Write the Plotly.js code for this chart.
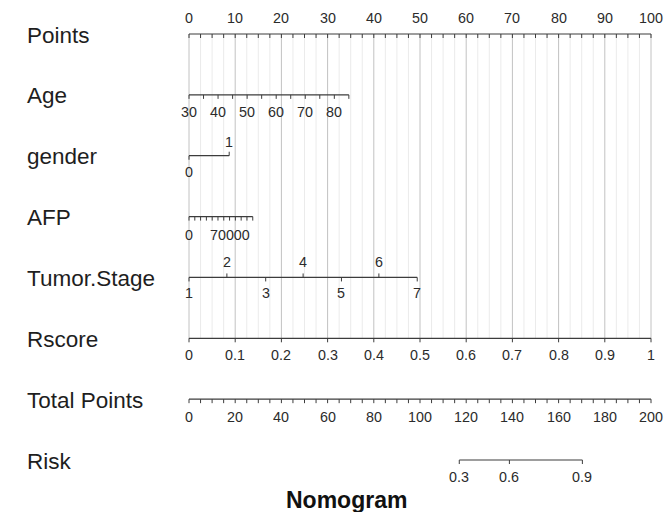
<!DOCTYPE html>
<html><head><meta charset="utf-8">
<script src="https://cdn.plot.ly/plotly-3.0.1.min.js"></script>
<style>html,body{margin:0;padding:0;background:#fff}#chart{width:664px;height:512px}</style>
</head><body><div id="chart"></div>
<script>
// ---- data ----
const rowNames = ["Points","Age","gender","AFP","Tumor.Stage","Rscore","Total Points","Risk"];
const pointsTickLabels = [0,10,20,30,40,50,60,70,80,90,100];
const pointsMinorStep = 2.5;
const ageRange = [30,85];
const agePointsRange = [0,34.6];
const ageTickLabels = [30,40,50,60,70,80];
const ageMinorStep = 5;
const genderLevels = [0,1];
const genderPoints = [0,8.7];
const afpRange = [0,110000];
const afpPointsRange = [0,13.8];
const afpTickStep = 10000;
const afpTickLabels = [0,70000];
const stageLevels = [1,2,3,4,5,6,7];
const stagePoints = [0,8.2,16.6,24.7,33.0,41.1,49.4];
const rscoreRange = [0,1];
const rscorePointsRange = [0,100];
const rscoreTickLabels = [0,0.1,0.2,0.3,0.4,0.5,0.6,0.7,0.8,0.9,1];
const totalRange = [0,200];
const totalTickLabels = [0,20,40,60,80,100,120,140,160,180,200];
const totalMinorStep = 5;
const riskLevels = [0.3,0.6,0.9];
const riskTotalPoints = [117,138.7,170.3];

// ---- geometry ----
const W = 664, H = 512;
const X0 = 189, PXP = 4.62;       // pixel of 0 points, pixels per point
const ROW0 = 34, ROW_PX = 60.86;  // pixel of first row, pixels per row
const px2row = p => p / ROW_PX;
const FONT = "Liberation Sans, Arial, sans-serif";
const AXIS_COL = "#3c3c3c", TXT_COL = "#2b2b2b";

const lin = (v, r, p) => p[0] + (v - r[0]) * (p[1] - p[0]) / (r[1] - r[0]);
const seq = (a, b, s) => { const o = []; for (let v = a; v <= b + 1e-9; v += s) o.push(+v.toFixed(6)); return o; };
const tpToPts = tp => lin(tp, totalRange, [0,100]);

const traces = [];
const annotations = [];
function segs(list, color, width) {
  const x = [], y = [];
  list.forEach(s => { x.push(s[0], s[2], null); y.push(s[1], s[3], null); });
  traces.push({x, y, mode: "lines", line: {color, width}, hoverinfo: "skip", type: "scatter"});
}
function label(x, row, text, shiftPx, size) {
  annotations.push({x, y: row, xref: "x", yref: "y", text: String(text), showarrow: false,
    yshift: shiftPx, xanchor: "center", yanchor: "middle",
    font: {family: FONT, size: size || 14.3, color: TXT_COL}});
}
const TICK = px2row(4);

// grid lines (from Points row to Rscore row)
const minor = seq(0, 100, pointsMinorStep).filter(v => Math.abs(v % 10) > 1e-6);
segs(minor.map(v => [v, 0, v, 5]), "#ebebeb", 1);
segs(pointsTickLabels.map(v => [v, 0, v, 5]), "#c2c2c2", 1);

// Points row 0
const axSegs = [], tickSegs = [];
axSegs.push([0, 0, 100, 0]);
seq(0, 100, pointsMinorStep).forEach(v => tickSegs.push([v, 0, v, TICK]));
pointsTickLabels.forEach(v => label(v, 0, v, 16));

// Age row 1
axSegs.push([agePointsRange[0], 1, agePointsRange[1], 1]);
seq(ageRange[0], ageRange[1], ageMinorStep).forEach(a => { const p = lin(a, ageRange, agePointsRange); tickSegs.push([p, 1, p, 1 + TICK]); });
ageTickLabels.forEach(a => label(lin(a, ageRange, agePointsRange), 1, a, -17));

// gender row 2
axSegs.push([genderPoints[0], 2, genderPoints[1], 2]);
tickSegs.push([genderPoints[0], 2, genderPoints[0], 2 + TICK]);
tickSegs.push([genderPoints[1], 2, genderPoints[1], 2 - TICK]);
label(genderPoints[0], 2, genderLevels[0], -16);
label(genderPoints[1], 2, genderLevels[1], 14);

// AFP row 3
axSegs.push([afpPointsRange[0], 3, afpPointsRange[1], 3]);
seq(afpRange[0], afpRange[1], afpTickStep).forEach(a => { const p = lin(a, afpRange, afpPointsRange); tickSegs.push([p, 3, p, 3 + TICK]); });
afpTickLabels.forEach(a => label(lin(a, afpRange, afpPointsRange), 3, a, -18));

// Tumor.Stage row 4
axSegs.push([stagePoints[0], 4, stagePoints[stagePoints.length - 1], 4]);
stageLevels.forEach((s, i) => {
  const up = i % 2 === 1;
  tickSegs.push([stagePoints[i], 4, stagePoints[i], 4 + (up ? -TICK : TICK)]);
  label(stagePoints[i], 4, s, up ? 15 : -16);
});

// Rscore row 5
axSegs.push([rscorePointsRange[0], 5, rscorePointsRange[1], 5]);
rscoreTickLabels.forEach(r => { const p = lin(r, rscoreRange, rscorePointsRange); tickSegs.push([p, 5, p, 5 + TICK]); label(p, 5, r, -17); });

// Total Points row 6
axSegs.push([tpToPts(totalRange[0]), 6, tpToPts(totalRange[1]), 6]);
seq(totalRange[0], totalRange[1], totalMinorStep).forEach(t => tickSegs.push([tpToPts(t), 6, tpToPts(t), 6 + TICK]));
totalTickLabels.forEach(t => label(tpToPts(t), 6, t, -18));

// Risk row 7
axSegs.push([tpToPts(riskTotalPoints[0]), 7, tpToPts(riskTotalPoints[riskTotalPoints.length - 1]), 7]);
riskLevels.forEach((r, i) => { const p = tpToPts(riskTotalPoints[i]); tickSegs.push([p, 7, p, 7 + TICK]); label(p, 7, r, -17); });

segs(axSegs, AXIS_COL, 1.2);
segs(tickSegs, AXIS_COL, 1);

// row names
rowNames.forEach((n, i) => annotations.push({x: 25 / W, xref: "paper", y: i, yref: "y", text: n,
  showarrow: false, xanchor: "left", yanchor: "middle", yshift: -1,
  font: {family: FONT, size: 22.5, color: "#1e1e1e"}}));

// title
annotations.push({x: 347 / W, xref: "paper", y: 7, yref: "y", yshift: -40, text: "<b>Nomogram</b>",
  showarrow: false, xanchor: "center", yanchor: "middle", font: {family: FONT, size: 23, color: "#111"}});

const layout = {
  width: W, height: H, margin: {l: 0, r: 0, t: 0, b: 0},
  paper_bgcolor: "#fff", plot_bgcolor: "#fff", showlegend: false, hovermode: false,
  xaxis: {range: [-X0 / PXP, (W - X0) / PXP], visible: false, fixedrange: true},
  yaxis: {range: [px2row(H - ROW0), px2row(-ROW0)], visible: false, fixedrange: true},
  annotations
};
Plotly.newPlot("chart", traces, layout, {staticPlot: true, displayModeBar: false});
</script></body></html>
